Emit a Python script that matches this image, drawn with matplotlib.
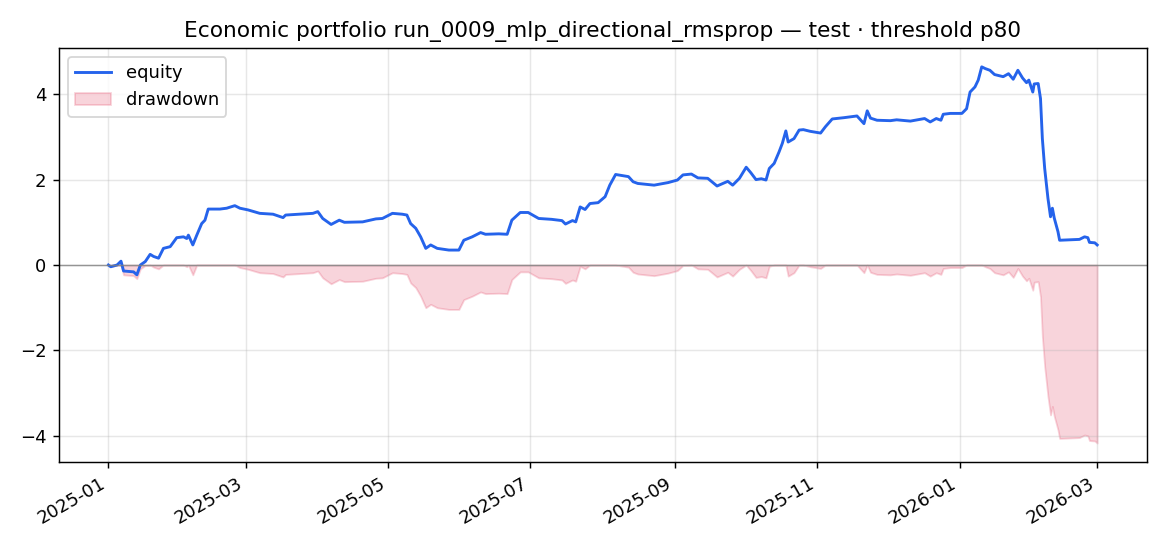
import matplotlib
matplotlib.use("Agg")
import matplotlib.pyplot as plt
import numpy as np
import pandas as pd

title = "Economic portfolio run_0009_mlp_directional_rmsprop — test · threshold p80"
start_date = "2025-01-01"

# day offsets from start date
day_offset = [
    0, 1, 3.7, 5.4, 6.5, 10.8, 12.2, 13.7, 15.8, 17.9, 19.4, 21.5, 23.6, 26.5, 29.3,
    32.2, 33.6, 34.3, 36.2, 37.9, 40, 41.4, 42.8, 47.8, 50.7, 54.2, 56.4, 59.9, 64.9,
    70.6, 74.9, 76, 82, 87.7, 89.8, 91.9, 95.5, 99, 101.2, 109, 114.7, 117.5, 121.8,
    126, 128, 129.6, 131.8, 133.9, 136.1, 138.2, 141, 146, 150.3, 152.4, 156, 159.6,
    161.7, 167.4, 171, 173, 176.6, 180, 184.5, 190, 194.5, 196, 199, 200.4, 202.3,
    204.4, 206.5, 210, 213, 215, 217.5, 220.7, 223, 225, 227, 234, 240, 244, 246.4,
    250, 252.8, 257, 261, 265.6, 267.7, 270.6, 273.5, 275.5, 277.7, 280, 282, 283.4,
    285.5, 287.6, 289, 290.5, 291.5, 294, 296.2, 298, 301, 305.4, 307.5, 310.4, 315.4,
    321, 324, 325.4, 326.8, 329.6, 335.3, 338, 343.9, 350, 352.4, 355, 357, 358, 361,
    366, 368, 369.5, 371.6, 373, 374.5, 376, 378, 380, 383.7, 386, 388, 390, 392,
    393.7, 394.7, 396.4, 397, 398.7, 399.7, 400.5, 401.5, 402.9, 404, 404.8, 405.6,
    407.2, 407.9, 416.4, 418.6, 420, 420.7, 423, 424,
]
equity = [
    0.00, -0.04, 0.00, 0.09, -0.14, -0.16, -0.23, 0.00, 0.08, 0.25, 0.20, 0.16, 0.39, 0.43, 0.64,
    0.66, 0.62, 0.70, 0.47, 0.70, 0.97, 1.05, 1.31, 1.31, 1.33, 1.39, 1.33, 1.29, 1.21,
    1.19, 1.11, 1.17, 1.19, 1.21, 1.25, 1.09, 0.95, 1.05, 1.00, 1.01, 1.08, 1.09, 1.21,
    1.19, 1.17, 0.97, 0.86, 0.66, 0.39, 0.47, 0.39, 0.35, 0.35, 0.58, 0.66, 0.76,
    0.72, 0.73, 0.72, 1.05, 1.23, 1.23, 1.09, 1.07, 1.04, 0.96, 1.04, 1.01, 1.36,
    1.30, 1.44, 1.46, 1.60, 1.87, 2.12, 2.09, 2.07, 1.95, 1.91, 1.87, 1.93, 1.99, 2.11,
    2.13, 2.04, 2.03, 1.85, 1.96, 1.87, 2.03, 2.29, 2.16, 2.00, 2.02, 1.99, 2.26,
    2.38, 2.65, 2.85, 3.14, 2.88, 2.96, 3.16, 3.17, 3.13, 3.09, 3.24, 3.42, 3.45,
    3.49, 3.31, 3.61, 3.44, 3.39, 3.38, 3.40, 3.37, 3.43, 3.35, 3.43, 3.39, 3.53, 3.55,
    3.55, 3.66, 4.05, 4.17, 4.33, 4.64, 4.60, 4.56, 4.46, 4.41, 4.48, 4.35, 4.56, 4.38,
    4.27, 4.33, 4.05, 4.24, 4.25, 3.90, 2.96, 2.26, 1.56, 1.13, 1.33, 1.10,
    0.78, 0.58, 0.60, 0.66, 0.64, 0.53, 0.52, 0.47,
]

dates = pd.Timestamp(start_date) + pd.to_timedelta(np.array(day_offset), unit="D")
eq = np.array(equity)
drawdown = eq - np.maximum.accumulate(eq)

fig = plt.figure(figsize=(9, 4.2), dpi=130)
ax = fig.add_axes([0.0504, 0.154, 0.9296, 0.758])

ax.plot(dates, eq, color="#2563eb", lw=1.6, label="equity")
ax.fill_between(dates, drawdown, 0, color="crimson", alpha=0.18, label="drawdown")
ax.axhline(0, color="gray", lw=0.8, alpha=0.8)
ax.grid(True, alpha=0.3)
ax.set_title(title, fontsize=12)
ax.legend(loc="upper left")
for lbl in ax.get_xticklabels():
    lbl.set_rotation(30)
    lbl.set_ha("right")

fig.savefig("out.png", dpi=130)
